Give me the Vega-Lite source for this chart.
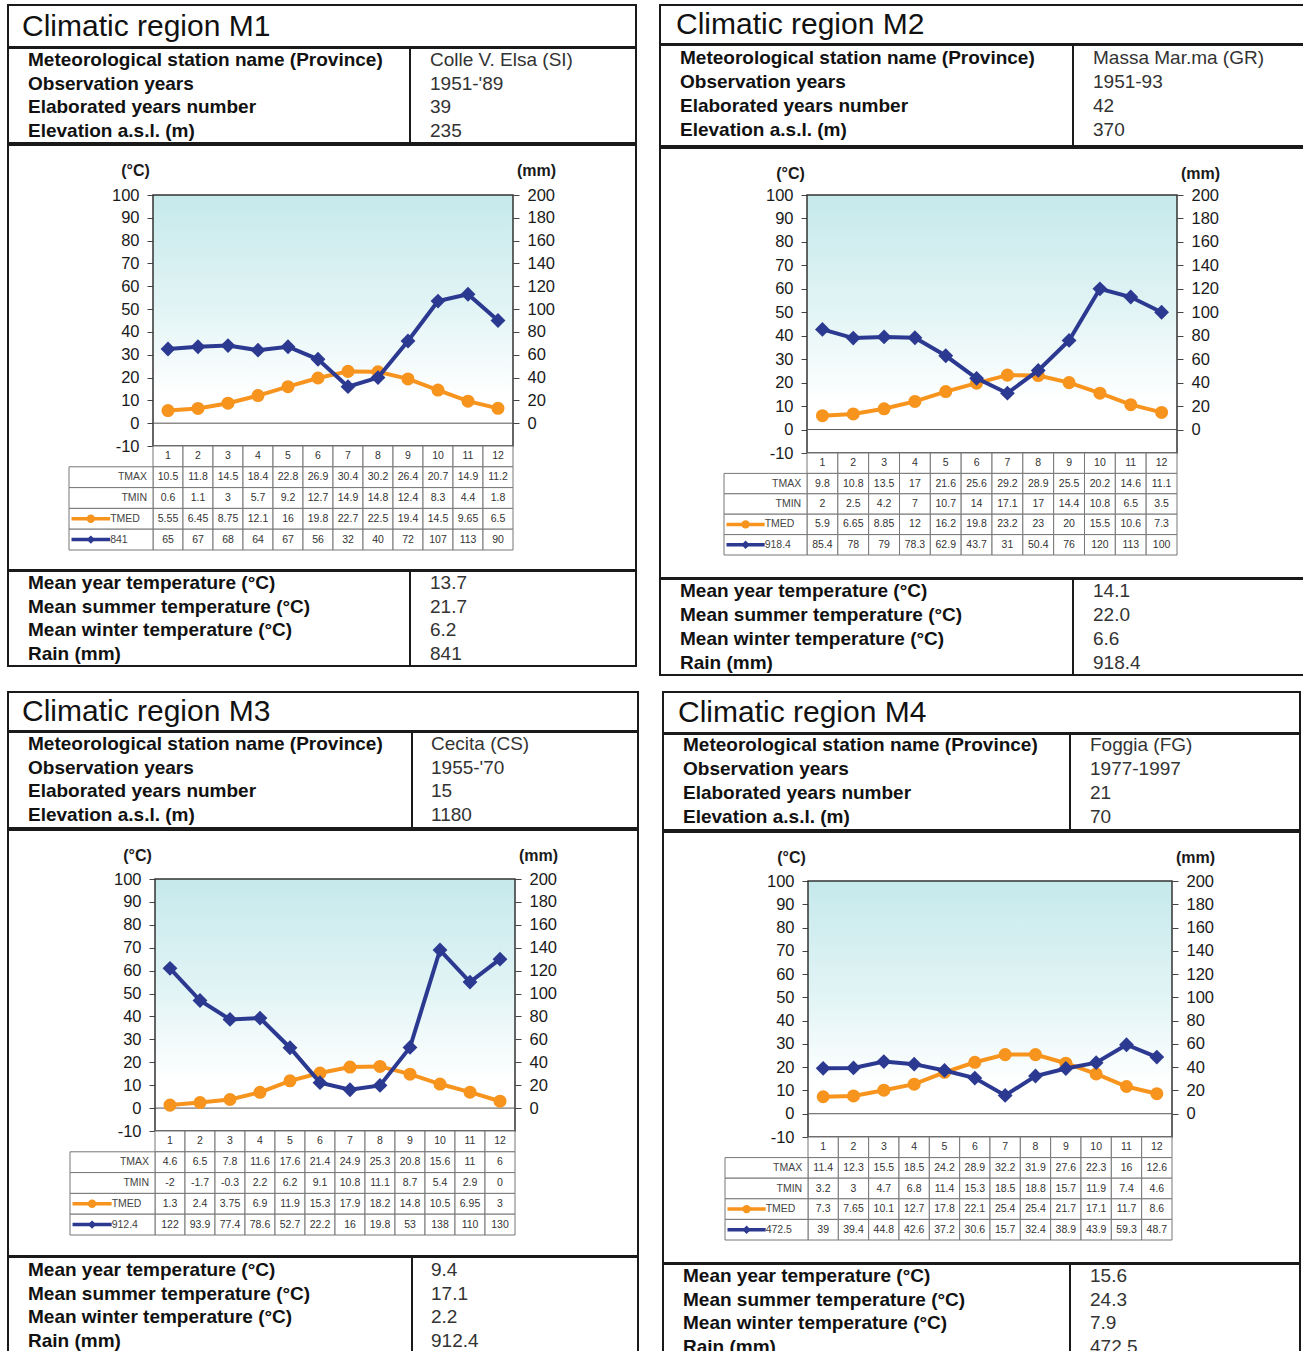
{
  "$schema": "https://vega.github.io/schema/vega-lite/v6.json",
  "background": "white",
  "padding": {"left": 7, "top": 4, "right": 0, "bottom": 0},
  "config": {
    "font": "Liberation Sans",
    "view": {"stroke": "#1a1a1a", "strokeWidth": 2},
    "axis": {
      "labelFont": "Liberation Sans", "labelFontSize": 16.5, "labelColor": "#1a1a1a", "labelExpr": "'' + datum.value",
      "tickColor": "#444", "tickSize": 6, "labelPadding": 8, "domain": false, "grid": false,
      "labelOverlap": false, "labelBound": false, "labelFlush": false,
      "titleFont": "Liberation Sans", "titleFontSize": 16, "titleFontWeight": "bold",
      "titleAngle": 0, "titleAlign": "center", "titleBaseline": "middle", "titleColor": "#1a1a1a"
    }
  },
  "datasets": {
    "titles": [
      {"region": "M1", "text": "Climatic region M1"},
      {"region": "M2", "text": "Climatic region M2"},
      {"region": "M3", "text": "Climatic region M3"},
      {"region": "M4", "text": "Climatic region M4"}
    ],
    "info": [
      {"region": "M1", "block": "header", "row": 1, "label": "Meteorological station name (Province)", "value": "Colle V. Elsa (SI)"},
      {"region": "M1", "block": "header", "row": 2, "label": "Observation years", "value": "1951-'89"},
      {"region": "M1", "block": "header", "row": 3, "label": "Elaborated years number", "value": "39"},
      {"region": "M1", "block": "header", "row": 4, "label": "Elevation a.s.l. (m)", "value": "235"},
      {"region": "M1", "block": "footer", "row": 1, "label": "Mean year temperature (°C)", "value": "13.7"},
      {"region": "M1", "block": "footer", "row": 2, "label": "Mean summer temperature (°C)", "value": "21.7"},
      {"region": "M1", "block": "footer", "row": 3, "label": "Mean winter temperature (°C)", "value": "6.2"},
      {"region": "M1", "block": "footer", "row": 4, "label": "Rain (mm)", "value": "841"},
      {"region": "M2", "block": "header", "row": 1, "label": "Meteorological station name (Province)", "value": "Massa Mar.ma (GR)"},
      {"region": "M2", "block": "header", "row": 2, "label": "Observation years", "value": "1951-93"},
      {"region": "M2", "block": "header", "row": 3, "label": "Elaborated years number", "value": "42"},
      {"region": "M2", "block": "header", "row": 4, "label": "Elevation a.s.l. (m)", "value": "370"},
      {"region": "M2", "block": "footer", "row": 1, "label": "Mean year temperature (°C)", "value": "14.1"},
      {"region": "M2", "block": "footer", "row": 2, "label": "Mean summer temperature (°C)", "value": "22.0"},
      {"region": "M2", "block": "footer", "row": 3, "label": "Mean winter temperature (°C)", "value": "6.6"},
      {"region": "M2", "block": "footer", "row": 4, "label": "Rain (mm)", "value": "918.4"},
      {"region": "M3", "block": "header", "row": 1, "label": "Meteorological station name (Province)", "value": "Cecita (CS)"},
      {"region": "M3", "block": "header", "row": 2, "label": "Observation years", "value": "1955-'70"},
      {"region": "M3", "block": "header", "row": 3, "label": "Elaborated years number", "value": "15"},
      {"region": "M3", "block": "header", "row": 4, "label": "Elevation a.s.l. (m)", "value": "1180"},
      {"region": "M3", "block": "footer", "row": 1, "label": "Mean year temperature (°C)", "value": "9.4"},
      {"region": "M3", "block": "footer", "row": 2, "label": "Mean summer temperature (°C)", "value": "17.1"},
      {"region": "M3", "block": "footer", "row": 3, "label": "Mean winter temperature (°C)", "value": "2.2"},
      {"region": "M3", "block": "footer", "row": 4, "label": "Rain (mm)", "value": "912.4"},
      {"region": "M4", "block": "header", "row": 1, "label": "Meteorological station name (Province)", "value": "Foggia (FG)"},
      {"region": "M4", "block": "header", "row": 2, "label": "Observation years", "value": "1977-1997"},
      {"region": "M4", "block": "header", "row": 3, "label": "Elaborated years number", "value": "21"},
      {"region": "M4", "block": "header", "row": 4, "label": "Elevation a.s.l. (m)", "value": "70"},
      {"region": "M4", "block": "footer", "row": 1, "label": "Mean year temperature (°C)", "value": "15.6"},
      {"region": "M4", "block": "footer", "row": 2, "label": "Mean summer temperature (°C)", "value": "24.3"},
      {"region": "M4", "block": "footer", "row": 3, "label": "Mean winter temperature (°C)", "value": "7.9"},
      {"region": "M4", "block": "footer", "row": 4, "label": "Rain (mm)", "value": "472.5"}
    ],
    "rowlabels": [
      {"region": "M1", "key": "tmax", "label": "TMAX"}, {"region": "M1", "key": "tmin", "label": "TMIN"},
      {"region": "M1", "key": "tmed", "label": "TMED"}, {"region": "M1", "key": "rain", "label": "841"},
      {"region": "M2", "key": "tmax", "label": "TMAX"}, {"region": "M2", "key": "tmin", "label": "TMIN"},
      {"region": "M2", "key": "tmed", "label": "TMED"}, {"region": "M2", "key": "rain", "label": "918.4"},
      {"region": "M3", "key": "tmax", "label": "TMAX"}, {"region": "M3", "key": "tmin", "label": "TMIN"},
      {"region": "M3", "key": "tmed", "label": "TMED"}, {"region": "M3", "key": "rain", "label": "912.4"},
      {"region": "M4", "key": "tmax", "label": "TMAX"}, {"region": "M4", "key": "tmin", "label": "TMIN"},
      {"region": "M4", "key": "tmed", "label": "TMED"}, {"region": "M4", "key": "rain", "label": "472.5"}
    ],
    "monthly": [
      {"region": "M1", "month": 1, "tmax": 10.5, "tmin": 0.6, "tmed": 5.55, "rain": 65},
      {"region": "M1", "month": 2, "tmax": 11.8, "tmin": 1.1, "tmed": 6.45, "rain": 67},
      {"region": "M1", "month": 3, "tmax": 14.5, "tmin": 3, "tmed": 8.75, "rain": 68},
      {"region": "M1", "month": 4, "tmax": 18.4, "tmin": 5.7, "tmed": 12.1, "rain": 64},
      {"region": "M1", "month": 5, "tmax": 22.8, "tmin": 9.2, "tmed": 16, "rain": 67},
      {"region": "M1", "month": 6, "tmax": 26.9, "tmin": 12.7, "tmed": 19.8, "rain": 56},
      {"region": "M1", "month": 7, "tmax": 30.4, "tmin": 14.9, "tmed": 22.7, "rain": 32},
      {"region": "M1", "month": 8, "tmax": 30.2, "tmin": 14.8, "tmed": 22.5, "rain": 40},
      {"region": "M1", "month": 9, "tmax": 26.4, "tmin": 12.4, "tmed": 19.4, "rain": 72},
      {"region": "M1", "month": 10, "tmax": 20.7, "tmin": 8.3, "tmed": 14.5, "rain": 107},
      {"region": "M1", "month": 11, "tmax": 14.9, "tmin": 4.4, "tmed": 9.65, "rain": 113},
      {"region": "M1", "month": 12, "tmax": 11.2, "tmin": 1.8, "tmed": 6.5, "rain": 90},
      {"region": "M2", "month": 1, "tmax": 9.8, "tmin": 2, "tmed": 5.9, "rain": 85.4},
      {"region": "M2", "month": 2, "tmax": 10.8, "tmin": 2.5, "tmed": 6.65, "rain": 78},
      {"region": "M2", "month": 3, "tmax": 13.5, "tmin": 4.2, "tmed": 8.85, "rain": 79},
      {"region": "M2", "month": 4, "tmax": 17, "tmin": 7, "tmed": 12, "rain": 78.3},
      {"region": "M2", "month": 5, "tmax": 21.6, "tmin": 10.7, "tmed": 16.2, "rain": 62.9},
      {"region": "M2", "month": 6, "tmax": 25.6, "tmin": 14, "tmed": 19.8, "rain": 43.7},
      {"region": "M2", "month": 7, "tmax": 29.2, "tmin": 17.1, "tmed": 23.2, "rain": 31},
      {"region": "M2", "month": 8, "tmax": 28.9, "tmin": 17, "tmed": 23, "rain": 50.4},
      {"region": "M2", "month": 9, "tmax": 25.5, "tmin": 14.4, "tmed": 20, "rain": 76},
      {"region": "M2", "month": 10, "tmax": 20.2, "tmin": 10.8, "tmed": 15.5, "rain": 120},
      {"region": "M2", "month": 11, "tmax": 14.6, "tmin": 6.5, "tmed": 10.6, "rain": 113},
      {"region": "M2", "month": 12, "tmax": 11.1, "tmin": 3.5, "tmed": 7.3, "rain": 100},
      {"region": "M3", "month": 1, "tmax": 4.6, "tmin": -2, "tmed": 1.3, "rain": 122},
      {"region": "M3", "month": 2, "tmax": 6.5, "tmin": -1.7, "tmed": 2.4, "rain": 93.9},
      {"region": "M3", "month": 3, "tmax": 7.8, "tmin": -0.3, "tmed": 3.75, "rain": 77.4},
      {"region": "M3", "month": 4, "tmax": 11.6, "tmin": 2.2, "tmed": 6.9, "rain": 78.6},
      {"region": "M3", "month": 5, "tmax": 17.6, "tmin": 6.2, "tmed": 11.9, "rain": 52.7},
      {"region": "M3", "month": 6, "tmax": 21.4, "tmin": 9.1, "tmed": 15.3, "rain": 22.2},
      {"region": "M3", "month": 7, "tmax": 24.9, "tmin": 10.8, "tmed": 17.9, "rain": 16},
      {"region": "M3", "month": 8, "tmax": 25.3, "tmin": 11.1, "tmed": 18.2, "rain": 19.8},
      {"region": "M3", "month": 9, "tmax": 20.8, "tmin": 8.7, "tmed": 14.8, "rain": 53},
      {"region": "M3", "month": 10, "tmax": 15.6, "tmin": 5.4, "tmed": 10.5, "rain": 138},
      {"region": "M3", "month": 11, "tmax": 11, "tmin": 2.9, "tmed": 6.95, "rain": 110},
      {"region": "M3", "month": 12, "tmax": 6, "tmin": 0, "tmed": 3, "rain": 130},
      {"region": "M4", "month": 1, "tmax": 11.4, "tmin": 3.2, "tmed": 7.3, "rain": 39},
      {"region": "M4", "month": 2, "tmax": 12.3, "tmin": 3, "tmed": 7.65, "rain": 39.4},
      {"region": "M4", "month": 3, "tmax": 15.5, "tmin": 4.7, "tmed": 10.1, "rain": 44.8},
      {"region": "M4", "month": 4, "tmax": 18.5, "tmin": 6.8, "tmed": 12.7, "rain": 42.6},
      {"region": "M4", "month": 5, "tmax": 24.2, "tmin": 11.4, "tmed": 17.8, "rain": 37.2},
      {"region": "M4", "month": 6, "tmax": 28.9, "tmin": 15.3, "tmed": 22.1, "rain": 30.6},
      {"region": "M4", "month": 7, "tmax": 32.2, "tmin": 18.5, "tmed": 25.4, "rain": 15.7},
      {"region": "M4", "month": 8, "tmax": 31.9, "tmin": 18.8, "tmed": 25.4, "rain": 32.4},
      {"region": "M4", "month": 9, "tmax": 27.6, "tmin": 15.7, "tmed": 21.7, "rain": 38.9},
      {"region": "M4", "month": 10, "tmax": 22.3, "tmin": 11.9, "tmed": 17.1, "rain": 43.9},
      {"region": "M4", "month": 11, "tmax": 16, "tmin": 7.4, "tmed": 11.7, "rain": 59.3},
      {"region": "M4", "month": 12, "tmax": 12.6, "tmin": 4.6, "tmed": 8.6, "rain": 48.7}
    ]
  },
  "spacing": 14,
  "vconcat": [
    {
      "spacing": 22,
      "hconcat": [
        {
          "spacing": -2,
          "vconcat": [
            {
              "width": 628, "height": 42,
              "data": {"name": "titles"},
              "transform": [{"filter": "datum.region === 'M1'"}],
              "mark": {"type": "text", "align": "left", "baseline": "middle", "fontSize": 30, "color": "#111", "dy": 1},
              "encoding": {
                "x": {"datum": "label", "type": "nominal", "scale": {"type": "point", "domain": ["label", "value"], "range": [14, 416], "padding": 0}, "axis": null},
                "text": {"field": "text", "type": "nominal"}
              }
            },
            {
              "width": 628, "height": 95,
              "data": {"name": "info"},
              "transform": [{"filter": "datum.region === 'M1' && datum.block === 'header'"}],
              "layer": [
                {
                  "mark": {"type": "text", "align": "left", "baseline": "middle", "fontSize": 19, "fontWeight": "bold", "color": "#111"},
                  "encoding": {
                    "x": {"datum": "label", "type": "nominal", "scale": {"type": "point", "domain": ["label", "value"], "range": [20, 422], "padding": 0}, "axis": null},
                    "y": {"field": "row", "type": "ordinal", "scale": {"type": "point", "domain": [1, 2, 3, 4], "range": [12, 83], "padding": 0}, "axis": null},
                    "text": {"field": "label", "type": "nominal"}
                  }
                },
                {
                  "mark": {"type": "text", "align": "left", "baseline": "middle", "fontSize": 19, "color": "#333"},
                  "encoding": {
                    "x": {"datum": "value", "type": "nominal", "scale": {"type": "point", "domain": ["label", "value"], "range": [20, 422], "padding": 0}, "axis": null},
                    "y": {"field": "row", "type": "ordinal", "scale": {"type": "point", "domain": [1, 2, 3, 4], "range": [12, 83], "padding": 0}, "axis": null},
                    "text": {"field": "value", "type": "nominal"}
                  }
                },
                {
                  "mark": {"type": "rule", "color": "#1a1a1a", "strokeWidth": 2, "xOffset": -20},
                  "encoding": {
                    "x": {"datum": "value", "type": "nominal", "scale": {"type": "point", "domain": ["label", "value"], "range": [20, 422], "padding": 0}, "axis": null}
                  }
                }
              ]
            },
            {
              "width": 628, "height": 425,
              "resolve": {"scale": {"x": "independent", "y": "independent", "color": "independent", "shape": "independent"}},
              "layer": [
                {
                  "data": {"name": "titles"},
                  "transform": [{"filter": "datum.region === 'M1'"}],
                  "mark": {"type": "rect", "stroke": "#333", "strokeWidth": 1.5, "fill": {"gradient": "linear", "x1": 0, "y1": 0, "x2": 0, "y2": 1, "stops": [{"offset": 0, "color": "#c6e9ec"}, {"offset": 0.45, "color": "#e2f4f5"}, {"offset": 0.8, "color": "#ffffff"}, {"offset": 1, "color": "#ffffff"}]}},
                  "encoding": {
                    "x": {"datum": 0.5, "type": "quantitative", "scale": {"domain": [0.5, 12.5], "range": [145, 505], "nice": false, "zero": false}, "axis": null},
                    "x2": {"datum": 12.5},
                    "y": {"datum": -10, "type": "quantitative", "scale": {"domain": [-10, 100], "range": [301, 50], "nice": false, "zero": false},
                      "axis": {"orient": "left", "offset": -145, "values": [-10, 0, 10, 20, 30, 40, 50, 60, 70, 80, 90, 100], "title": "(°C)", "titleX": -18, "titleY": 25}},
                    "y2": {"datum": 100}
                  }
                },
                {
                  "data": {"name": "titles"},
                  "transform": [{"filter": "datum.region === 'M1'"}],
                  "mark": {"type": "rule", "color": "#555", "strokeWidth": 1},
                  "encoding": {
                    "x": {"datum": 0.5, "type": "quantitative", "scale": {"domain": [0.5, 12.5], "range": [145, 505], "nice": false, "zero": false}, "axis": null},
                    "x2": {"datum": 12.5},
                    "y": {"datum": 0, "type": "quantitative", "scale": {"domain": [-10, 100], "range": [301, 50], "nice": false, "zero": false}, "axis": null}
                  }
                },
                {
                  "data": {"name": "monthly"},
                  "transform": [{"filter": "datum.region === 'M1'"}],
                  "mark": {"type": "line", "color": "#F7941E", "strokeWidth": 4, "point": {"filled": true, "shape": "circle", "size": 170, "color": "#F7941E"}},
                  "encoding": {
                    "x": {"field": "month", "type": "quantitative", "scale": {"domain": [0.5, 12.5], "range": [145, 505], "nice": false, "zero": false}, "axis": null},
                    "y": {"field": "tmed", "type": "quantitative", "scale": {"domain": [-10, 100], "range": [301, 50], "nice": false, "zero": false}, "axis": null}
                  }
                },
                {
                  "data": {"name": "monthly"},
                  "transform": [{"filter": "datum.region === 'M1'"}],
                  "mark": {"type": "line", "color": "#2B3990", "strokeWidth": 4, "point": {"filled": true, "shape": "diamond", "size": 220, "color": "#2B3990"}},
                  "encoding": {
                    "x": {"field": "month", "type": "quantitative", "scale": {"domain": [0.5, 12.5], "range": [145, 505], "nice": false, "zero": false}, "axis": null},
                    "y": {"field": "rain", "type": "quantitative", "scale": {"domain": [-20, 200], "range": [301, 50], "nice": false, "zero": false},
                      "axis": {"orient": "right", "offset": -123, "values": [0, 20, 40, 60, 80, 100, 120, 140, 160, 180, 200], "title": "(mm)", "titleX": 23, "titleY": 25}}
                  }
                },
                {
                  "data": {"name": "monthly"},
                  "transform": [{"filter": "datum.region === 'M1'"}, {"fold": ["month", "tmax", "tmin", "tmed", "rain"], "as": ["key", "value"]}],
                  "mark": {"type": "rect", "fill": "white", "stroke": "#777", "strokeWidth": 1},
                  "encoding": {
                    "x": {"field": "month", "type": "ordinal", "scale": {"type": "band", "domain": [1, 2, 3, 4, 5, 6, 7, 8, 9, 10, 11, 12], "range": [145, 505], "paddingInner": 0, "paddingOuter": 0}, "axis": null},
                    "y": {"field": "key", "type": "nominal", "scale": {"type": "band", "domain": ["month", "tmax", "tmin", "tmed", "rain"], "range": [301, 405], "paddingInner": 0, "paddingOuter": 0}, "axis": null}
                  }
                },
                {
                  "data": {"name": "monthly"},
                  "transform": [{"filter": "datum.region === 'M1'"}, {"fold": ["month", "tmax", "tmin", "tmed", "rain"], "as": ["key", "value"]}],
                  "mark": {"type": "text", "fontSize": 10.5, "color": "#333", "baseline": "middle"},
                  "encoding": {
                    "x": {"field": "month", "type": "ordinal", "scale": {"type": "band", "domain": [1, 2, 3, 4, 5, 6, 7, 8, 9, 10, 11, 12], "range": [145, 505], "paddingInner": 0, "paddingOuter": 0}, "axis": null},
                    "y": {"field": "key", "type": "nominal", "scale": {"type": "band", "domain": ["month", "tmax", "tmin", "tmed", "rain"], "range": [301, 405], "paddingInner": 0, "paddingOuter": 0}, "axis": null},
                    "text": {"field": "value", "type": "nominal"}
                  }
                },
                {
                  "data": {"name": "rowlabels"},
                  "transform": [{"filter": "datum.region === 'M1'"}],
                  "mark": {"type": "rect", "fill": "white", "stroke": "#777", "strokeWidth": 1},
                  "encoding": {
                    "x": {"datum": 0, "type": "quantitative", "scale": {"domain": [0, 1], "range": [61, 145], "nice": false, "zero": false}, "axis": null},
                    "x2": {"datum": 1},
                    "y": {"field": "key", "type": "nominal", "scale": {"type": "band", "domain": ["month", "tmax", "tmin", "tmed", "rain"], "range": [301, 405], "paddingInner": 0, "paddingOuter": 0}, "axis": null}
                  }
                },
                {
                  "data": {"name": "rowlabels"},
                  "transform": [{"filter": "datum.region === 'M1' && (datum.key === 'tmax' || datum.key === 'tmin')"}],
                  "mark": {"type": "text", "fontSize": 10.5, "color": "#444", "align": "right", "baseline": "middle"},
                  "encoding": {
                    "x": {"datum": 0.93, "type": "quantitative", "scale": {"domain": [0, 1], "range": [61, 145], "nice": false, "zero": false}, "axis": null},
                    "y": {"field": "key", "type": "nominal", "scale": {"type": "band", "domain": ["month", "tmax", "tmin", "tmed", "rain"], "range": [301, 405], "paddingInner": 0, "paddingOuter": 0}, "axis": null},
                    "text": {"field": "label", "type": "nominal"}
                  }
                },
                {
                  "data": {"name": "rowlabels"},
                  "transform": [{"filter": "datum.region === 'M1' && (datum.key === 'tmed' || datum.key === 'rain')"}],
                  "mark": {"type": "text", "fontSize": 10.5, "color": "#444", "align": "left", "baseline": "middle"},
                  "encoding": {
                    "x": {"datum": 0.49, "type": "quantitative", "scale": {"domain": [0, 1], "range": [61, 145], "nice": false, "zero": false}, "axis": null},
                    "y": {"field": "key", "type": "nominal", "scale": {"type": "band", "domain": ["month", "tmax", "tmin", "tmed", "rain"], "range": [301, 405], "paddingInner": 0, "paddingOuter": 0}, "axis": null},
                    "text": {"field": "label", "type": "nominal"}
                  }
                },
                {
                  "data": {"name": "rowlabels"},
                  "transform": [{"filter": "datum.region === 'M1' && (datum.key === 'tmed' || datum.key === 'rain')"}],
                  "mark": {"type": "rule", "strokeWidth": 3.5},
                  "encoding": {
                    "x": {"datum": 0.03, "type": "quantitative", "scale": {"domain": [0, 1], "range": [61, 145], "nice": false, "zero": false}, "axis": null},
                    "x2": {"datum": 0.49},
                    "y": {"field": "key", "type": "nominal", "scale": {"type": "band", "domain": ["month", "tmax", "tmin", "tmed", "rain"], "range": [301, 405], "paddingInner": 0, "paddingOuter": 0}, "axis": null},
                    "color": {"field": "key", "type": "nominal", "scale": {"domain": ["tmed", "rain"], "range": ["#F7941E", "#2B3990"]}, "legend": null}
                  }
                },
                {
                  "data": {"name": "rowlabels"},
                  "transform": [{"filter": "datum.region === 'M1' && (datum.key === 'tmed' || datum.key === 'rain')"}],
                  "mark": {"type": "point", "filled": true, "size": 70, "opacity": 1},
                  "encoding": {
                    "x": {"datum": 0.26, "type": "quantitative", "scale": {"domain": [0, 1], "range": [61, 145], "nice": false, "zero": false}, "axis": null},
                    "y": {"field": "key", "type": "nominal", "scale": {"type": "band", "domain": ["month", "tmax", "tmin", "tmed", "rain"], "range": [301, 405], "paddingInner": 0, "paddingOuter": 0}, "axis": null},
                    "color": {"field": "key", "type": "nominal", "scale": {"domain": ["tmed", "rain"], "range": ["#F7941E", "#2B3990"]}, "legend": null},
                    "shape": {"field": "key", "type": "nominal", "scale": {"domain": ["tmed", "rain"], "range": ["circle", "diamond"]}, "legend": null}
                  }
                }
              ]
            },
            {
              "width": 628, "height": 95,
              "data": {"name": "info"},
              "transform": [{"filter": "datum.region === 'M1' && datum.block === 'footer'"}],
              "layer": [
                {
                  "mark": {"type": "text", "align": "left", "baseline": "middle", "fontSize": 19, "fontWeight": "bold", "color": "#111"},
                  "encoding": {
                    "x": {"datum": "label", "type": "nominal", "scale": {"type": "point", "domain": ["label", "value"], "range": [20, 422], "padding": 0}, "axis": null},
                    "y": {"field": "row", "type": "ordinal", "scale": {"type": "point", "domain": [1, 2, 3, 4], "range": [12, 83], "padding": 0}, "axis": null},
                    "text": {"field": "label", "type": "nominal"}
                  }
                },
                {
                  "mark": {"type": "text", "align": "left", "baseline": "middle", "fontSize": 19, "color": "#333"},
                  "encoding": {
                    "x": {"datum": "value", "type": "nominal", "scale": {"type": "point", "domain": ["label", "value"], "range": [20, 422], "padding": 0}, "axis": null},
                    "y": {"field": "row", "type": "ordinal", "scale": {"type": "point", "domain": [1, 2, 3, 4], "range": [12, 83], "padding": 0}, "axis": null},
                    "text": {"field": "value", "type": "nominal"}
                  }
                },
                {
                  "mark": {"type": "rule", "color": "#1a1a1a", "strokeWidth": 2, "xOffset": -20},
                  "encoding": {
                    "x": {"datum": "value", "type": "nominal", "scale": {"type": "point", "domain": ["label", "value"], "range": [20, 422], "padding": 0}, "axis": null}
                  }
                }
              ]
            }
          ]
        },
        {
          "spacing": -2,
          "vconcat": [
            {
              "width": 648, "height": 39,
              "data": {"name": "titles"},
              "transform": [{"filter": "datum.region === 'M2'"}],
              "mark": {"type": "text", "align": "left", "baseline": "middle", "fontSize": 30, "color": "#111"},
              "encoding": {
                "x": {"datum": "label", "type": "nominal", "scale": {"type": "point", "domain": ["label", "value"], "range": [16, 418], "padding": 0}, "axis": null},
                "text": {"field": "text", "type": "nominal"}
              }
            },
            {
              "width": 648, "height": 101,
              "data": {"name": "info"},
              "transform": [{"filter": "datum.region === 'M2' && datum.block === 'header'"}],
              "layer": [
                {
                  "mark": {"type": "text", "align": "left", "baseline": "middle", "fontSize": 19, "fontWeight": "bold", "color": "#111"},
                  "encoding": {
                    "x": {"datum": "label", "type": "nominal", "scale": {"type": "point", "domain": ["label", "value"], "range": [20, 433], "padding": 0}, "axis": null},
                    "y": {"field": "row", "type": "ordinal", "scale": {"type": "point", "domain": [1, 2, 3, 4], "range": [13, 85], "padding": 0}, "axis": null},
                    "text": {"field": "label", "type": "nominal"}
                  }
                },
                {
                  "mark": {"type": "text", "align": "left", "baseline": "middle", "fontSize": 19, "color": "#333"},
                  "encoding": {
                    "x": {"datum": "value", "type": "nominal", "scale": {"type": "point", "domain": ["label", "value"], "range": [20, 433], "padding": 0}, "axis": null},
                    "y": {"field": "row", "type": "ordinal", "scale": {"type": "point", "domain": [1, 2, 3, 4], "range": [13, 85], "padding": 0}, "axis": null},
                    "text": {"field": "value", "type": "nominal"}
                  }
                },
                {
                  "mark": {"type": "rule", "color": "#1a1a1a", "strokeWidth": 2, "xOffset": -20},
                  "encoding": {
                    "x": {"datum": "value", "type": "nominal", "scale": {"type": "point", "domain": ["label", "value"], "range": [20, 433], "padding": 0}, "axis": null}
                  }
                }
              ]
            },
            {
              "width": 648, "height": 430,
              "resolve": {"scale": {"x": "independent", "y": "independent", "color": "independent", "shape": "independent"}},
              "layer": [
                {
                  "data": {"name": "titles"},
                  "transform": [{"filter": "datum.region === 'M2'"}],
                  "mark": {"type": "rect", "stroke": "#333", "strokeWidth": 1.5, "fill": {"gradient": "linear", "x1": 0, "y1": 0, "x2": 0, "y2": 1, "stops": [{"offset": 0, "color": "#c6e9ec"}, {"offset": 0.45, "color": "#e2f4f5"}, {"offset": 0.8, "color": "#ffffff"}, {"offset": 1, "color": "#ffffff"}]}},
                  "encoding": {
                    "x": {"datum": 0.5, "type": "quantitative", "scale": {"domain": [0.5, 12.5], "range": [147, 517], "nice": false, "zero": false}, "axis": null},
                    "x2": {"datum": 12.5},
                    "y": {"datum": -10, "type": "quantitative", "scale": {"domain": [-10, 100], "range": [305, 47], "nice": false, "zero": false},
                      "axis": {"orient": "left", "offset": -147, "values": [-10, 0, 10, 20, 30, 40, 50, 60, 70, 80, 90, 100], "title": "(°C)", "titleX": -17, "titleY": 25}},
                    "y2": {"datum": 100}
                  }
                },
                {
                  "data": {"name": "titles"},
                  "transform": [{"filter": "datum.region === 'M2'"}],
                  "mark": {"type": "rule", "color": "#555", "strokeWidth": 1},
                  "encoding": {
                    "x": {"datum": 0.5, "type": "quantitative", "scale": {"domain": [0.5, 12.5], "range": [147, 517], "nice": false, "zero": false}, "axis": null},
                    "x2": {"datum": 12.5},
                    "y": {"datum": 0, "type": "quantitative", "scale": {"domain": [-10, 100], "range": [305, 47], "nice": false, "zero": false}, "axis": null}
                  }
                },
                {
                  "data": {"name": "monthly"},
                  "transform": [{"filter": "datum.region === 'M2'"}],
                  "mark": {"type": "line", "color": "#F7941E", "strokeWidth": 4, "point": {"filled": true, "shape": "circle", "size": 170, "color": "#F7941E"}},
                  "encoding": {
                    "x": {"field": "month", "type": "quantitative", "scale": {"domain": [0.5, 12.5], "range": [147, 517], "nice": false, "zero": false}, "axis": null},
                    "y": {"field": "tmed", "type": "quantitative", "scale": {"domain": [-10, 100], "range": [305, 47], "nice": false, "zero": false}, "axis": null}
                  }
                },
                {
                  "data": {"name": "monthly"},
                  "transform": [{"filter": "datum.region === 'M2'"}],
                  "mark": {"type": "line", "color": "#2B3990", "strokeWidth": 4, "point": {"filled": true, "shape": "diamond", "size": 220, "color": "#2B3990"}},
                  "encoding": {
                    "x": {"field": "month", "type": "quantitative", "scale": {"domain": [0.5, 12.5], "range": [147, 517], "nice": false, "zero": false}, "axis": null},
                    "y": {"field": "rain", "type": "quantitative", "scale": {"domain": [-20, 200], "range": [305, 47], "nice": false, "zero": false},
                      "axis": {"orient": "right", "offset": -131, "values": [0, 20, 40, 60, 80, 100, 120, 140, 160, 180, 200], "title": "(mm)", "titleX": 23, "titleY": 25}}
                  }
                },
                {
                  "data": {"name": "monthly"},
                  "transform": [{"filter": "datum.region === 'M2'"}, {"fold": ["month", "tmax", "tmin", "tmed", "rain"], "as": ["key", "value"]}],
                  "mark": {"type": "rect", "fill": "white", "stroke": "#777", "strokeWidth": 1},
                  "encoding": {
                    "x": {"field": "month", "type": "ordinal", "scale": {"type": "band", "domain": [1, 2, 3, 4, 5, 6, 7, 8, 9, 10, 11, 12], "range": [147, 517], "paddingInner": 0, "paddingOuter": 0}, "axis": null},
                    "y": {"field": "key", "type": "nominal", "scale": {"type": "band", "domain": ["month", "tmax", "tmin", "tmed", "rain"], "range": [305, 407], "paddingInner": 0, "paddingOuter": 0}, "axis": null}
                  }
                },
                {
                  "data": {"name": "monthly"},
                  "transform": [{"filter": "datum.region === 'M2'"}, {"fold": ["month", "tmax", "tmin", "tmed", "rain"], "as": ["key", "value"]}],
                  "mark": {"type": "text", "fontSize": 10.5, "color": "#333", "baseline": "middle"},
                  "encoding": {
                    "x": {"field": "month", "type": "ordinal", "scale": {"type": "band", "domain": [1, 2, 3, 4, 5, 6, 7, 8, 9, 10, 11, 12], "range": [147, 517], "paddingInner": 0, "paddingOuter": 0}, "axis": null},
                    "y": {"field": "key", "type": "nominal", "scale": {"type": "band", "domain": ["month", "tmax", "tmin", "tmed", "rain"], "range": [305, 407], "paddingInner": 0, "paddingOuter": 0}, "axis": null},
                    "text": {"field": "value", "type": "nominal"}
                  }
                },
                {
                  "data": {"name": "rowlabels"},
                  "transform": [{"filter": "datum.region === 'M2'"}],
                  "mark": {"type": "rect", "fill": "white", "stroke": "#777", "strokeWidth": 1},
                  "encoding": {
                    "x": {"datum": 0, "type": "quantitative", "scale": {"domain": [0, 1], "range": [64, 147], "nice": false, "zero": false}, "axis": null},
                    "x2": {"datum": 1},
                    "y": {"field": "key", "type": "nominal", "scale": {"type": "band", "domain": ["month", "tmax", "tmin", "tmed", "rain"], "range": [305, 407], "paddingInner": 0, "paddingOuter": 0}, "axis": null}
                  }
                },
                {
                  "data": {"name": "rowlabels"},
                  "transform": [{"filter": "datum.region === 'M2' && (datum.key === 'tmax' || datum.key === 'tmin')"}],
                  "mark": {"type": "text", "fontSize": 10.5, "color": "#444", "align": "right", "baseline": "middle"},
                  "encoding": {
                    "x": {"datum": 0.93, "type": "quantitative", "scale": {"domain": [0, 1], "range": [64, 147], "nice": false, "zero": false}, "axis": null},
                    "y": {"field": "key", "type": "nominal", "scale": {"type": "band", "domain": ["month", "tmax", "tmin", "tmed", "rain"], "range": [305, 407], "paddingInner": 0, "paddingOuter": 0}, "axis": null},
                    "text": {"field": "label", "type": "nominal"}
                  }
                },
                {
                  "data": {"name": "rowlabels"},
                  "transform": [{"filter": "datum.region === 'M2' && (datum.key === 'tmed' || datum.key === 'rain')"}],
                  "mark": {"type": "text", "fontSize": 10.5, "color": "#444", "align": "left", "baseline": "middle"},
                  "encoding": {
                    "x": {"datum": 0.49, "type": "quantitative", "scale": {"domain": [0, 1], "range": [64, 147], "nice": false, "zero": false}, "axis": null},
                    "y": {"field": "key", "type": "nominal", "scale": {"type": "band", "domain": ["month", "tmax", "tmin", "tmed", "rain"], "range": [305, 407], "paddingInner": 0, "paddingOuter": 0}, "axis": null},
                    "text": {"field": "label", "type": "nominal"}
                  }
                },
                {
                  "data": {"name": "rowlabels"},
                  "transform": [{"filter": "datum.region === 'M2' && (datum.key === 'tmed' || datum.key === 'rain')"}],
                  "mark": {"type": "rule", "strokeWidth": 3.5},
                  "encoding": {
                    "x": {"datum": 0.03, "type": "quantitative", "scale": {"domain": [0, 1], "range": [64, 147], "nice": false, "zero": false}, "axis": null},
                    "x2": {"datum": 0.49},
                    "y": {"field": "key", "type": "nominal", "scale": {"type": "band", "domain": ["month", "tmax", "tmin", "tmed", "rain"], "range": [305, 407], "paddingInner": 0, "paddingOuter": 0}, "axis": null},
                    "color": {"field": "key", "type": "nominal", "scale": {"domain": ["tmed", "rain"], "range": ["#F7941E", "#2B3990"]}, "legend": null}
                  }
                },
                {
                  "data": {"name": "rowlabels"},
                  "transform": [{"filter": "datum.region === 'M2' && (datum.key === 'tmed' || datum.key === 'rain')"}],
                  "mark": {"type": "point", "filled": true, "size": 70, "opacity": 1},
                  "encoding": {
                    "x": {"datum": 0.26, "type": "quantitative", "scale": {"domain": [0, 1], "range": [64, 147], "nice": false, "zero": false}, "axis": null},
                    "y": {"field": "key", "type": "nominal", "scale": {"type": "band", "domain": ["month", "tmax", "tmin", "tmed", "rain"], "range": [305, 407], "paddingInner": 0, "paddingOuter": 0}, "axis": null},
                    "color": {"field": "key", "type": "nominal", "scale": {"domain": ["tmed", "rain"], "range": ["#F7941E", "#2B3990"]}, "legend": null},
                    "shape": {"field": "key", "type": "nominal", "scale": {"domain": ["tmed", "rain"], "range": ["circle", "diamond"]}, "legend": null}
                  }
                }
              ]
            },
            {
              "width": 648, "height": 96,
              "data": {"name": "info"},
              "transform": [{"filter": "datum.region === 'M2' && datum.block === 'footer'"}],
              "layer": [
                {
                  "mark": {"type": "text", "align": "left", "baseline": "middle", "fontSize": 19, "fontWeight": "bold", "color": "#111"},
                  "encoding": {
                    "x": {"datum": "label", "type": "nominal", "scale": {"type": "point", "domain": ["label", "value"], "range": [20, 433], "padding": 0}, "axis": null},
                    "y": {"field": "row", "type": "ordinal", "scale": {"type": "point", "domain": [1, 2, 3, 4], "range": [12, 84], "padding": 0}, "axis": null},
                    "text": {"field": "label", "type": "nominal"}
                  }
                },
                {
                  "mark": {"type": "text", "align": "left", "baseline": "middle", "fontSize": 19, "color": "#333"},
                  "encoding": {
                    "x": {"datum": "value", "type": "nominal", "scale": {"type": "point", "domain": ["label", "value"], "range": [20, 433], "padding": 0}, "axis": null},
                    "y": {"field": "row", "type": "ordinal", "scale": {"type": "point", "domain": [1, 2, 3, 4], "range": [12, 84], "padding": 0}, "axis": null},
                    "text": {"field": "value", "type": "nominal"}
                  }
                },
                {
                  "mark": {"type": "rule", "color": "#1a1a1a", "strokeWidth": 2, "xOffset": -20},
                  "encoding": {
                    "x": {"datum": "value", "type": "nominal", "scale": {"type": "point", "domain": ["label", "value"], "range": [20, 433], "padding": 0}, "axis": null}
                  }
                }
              ]
            }
          ]
        }
      ]
    },
    {
      "spacing": 23,
      "hconcat": [
        {
          "spacing": -2,
          "vconcat": [
            {
              "width": 630, "height": 39,
              "data": {"name": "titles"},
              "transform": [{"filter": "datum.region === 'M3'"}],
              "mark": {"type": "text", "align": "left", "baseline": "middle", "fontSize": 30, "color": "#111"},
              "encoding": {
                "x": {"datum": "label", "type": "nominal", "scale": {"type": "point", "domain": ["label", "value"], "range": [14, 416], "padding": 0}, "axis": null},
                "text": {"field": "text", "type": "nominal"}
              }
            },
            {
              "width": 630, "height": 96,
              "data": {"name": "info"},
              "transform": [{"filter": "datum.region === 'M3' && datum.block === 'header'"}],
              "layer": [
                {
                  "mark": {"type": "text", "align": "left", "baseline": "middle", "fontSize": 19, "fontWeight": "bold", "color": "#111"},
                  "encoding": {
                    "x": {"datum": "label", "type": "nominal", "scale": {"type": "point", "domain": ["label", "value"], "range": [20, 423], "padding": 0}, "axis": null},
                    "y": {"field": "row", "type": "ordinal", "scale": {"type": "point", "domain": [1, 2, 3, 4], "range": [12, 83], "padding": 0}, "axis": null},
                    "text": {"field": "label", "type": "nominal"}
                  }
                },
                {
                  "mark": {"type": "text", "align": "left", "baseline": "middle", "fontSize": 19, "color": "#333"},
                  "encoding": {
                    "x": {"datum": "value", "type": "nominal", "scale": {"type": "point", "domain": ["label", "value"], "range": [20, 423], "padding": 0}, "axis": null},
                    "y": {"field": "row", "type": "ordinal", "scale": {"type": "point", "domain": [1, 2, 3, 4], "range": [12, 83], "padding": 0}, "axis": null},
                    "text": {"field": "value", "type": "nominal"}
                  }
                },
                {
                  "mark": {"type": "rule", "color": "#1a1a1a", "strokeWidth": 2, "xOffset": -19},
                  "encoding": {
                    "x": {"datum": "value", "type": "nominal", "scale": {"type": "point", "domain": ["label", "value"], "range": [20, 423], "padding": 0}, "axis": null}
                  }
                }
              ]
            },
            {
              "width": 630, "height": 426,
              "resolve": {"scale": {"x": "independent", "y": "independent", "color": "independent", "shape": "independent"}},
              "layer": [
                {
                  "data": {"name": "titles"},
                  "transform": [{"filter": "datum.region === 'M3'"}],
                  "mark": {"type": "rect", "stroke": "#333", "strokeWidth": 1.5, "fill": {"gradient": "linear", "x1": 0, "y1": 0, "x2": 0, "y2": 1, "stops": [{"offset": 0, "color": "#c6e9ec"}, {"offset": 0.45, "color": "#e2f4f5"}, {"offset": 0.8, "color": "#ffffff"}, {"offset": 1, "color": "#ffffff"}]}},
                  "encoding": {
                    "x": {"datum": 0.5, "type": "quantitative", "scale": {"domain": [0.5, 12.5], "range": [147, 507], "nice": false, "zero": false}, "axis": null},
                    "x2": {"datum": 12.5},
                    "y": {"datum": -10, "type": "quantitative", "scale": {"domain": [-10, 100], "range": [301, 49], "nice": false, "zero": false},
                      "axis": {"orient": "left", "offset": -147, "values": [-10, 0, 10, 20, 30, 40, 50, 60, 70, 80, 90, 100], "title": "(°C)", "titleX": -18, "titleY": 25}},
                    "y2": {"datum": 100}
                  }
                },
                {
                  "data": {"name": "titles"},
                  "transform": [{"filter": "datum.region === 'M3'"}],
                  "mark": {"type": "rule", "color": "#555", "strokeWidth": 1},
                  "encoding": {
                    "x": {"datum": 0.5, "type": "quantitative", "scale": {"domain": [0.5, 12.5], "range": [147, 507], "nice": false, "zero": false}, "axis": null},
                    "x2": {"datum": 12.5},
                    "y": {"datum": 0, "type": "quantitative", "scale": {"domain": [-10, 100], "range": [301, 49], "nice": false, "zero": false}, "axis": null}
                  }
                },
                {
                  "data": {"name": "monthly"},
                  "transform": [{"filter": "datum.region === 'M3'"}],
                  "mark": {"type": "line", "color": "#F7941E", "strokeWidth": 4, "point": {"filled": true, "shape": "circle", "size": 170, "color": "#F7941E"}},
                  "encoding": {
                    "x": {"field": "month", "type": "quantitative", "scale": {"domain": [0.5, 12.5], "range": [147, 507], "nice": false, "zero": false}, "axis": null},
                    "y": {"field": "tmed", "type": "quantitative", "scale": {"domain": [-10, 100], "range": [301, 49], "nice": false, "zero": false}, "axis": null}
                  }
                },
                {
                  "data": {"name": "monthly"},
                  "transform": [{"filter": "datum.region === 'M3'"}],
                  "mark": {"type": "line", "color": "#2B3990", "strokeWidth": 4, "point": {"filled": true, "shape": "diamond", "size": 220, "color": "#2B3990"}},
                  "encoding": {
                    "x": {"field": "month", "type": "quantitative", "scale": {"domain": [0.5, 12.5], "range": [147, 507], "nice": false, "zero": false}, "axis": null},
                    "y": {"field": "rain", "type": "quantitative", "scale": {"domain": [-20, 200], "range": [301, 49], "nice": false, "zero": false},
                      "axis": {"orient": "right", "offset": -123, "values": [0, 20, 40, 60, 80, 100, 120, 140, 160, 180, 200], "title": "(mm)", "titleX": 23, "titleY": 25}}
                  }
                },
                {
                  "data": {"name": "monthly"},
                  "transform": [{"filter": "datum.region === 'M3'"}, {"fold": ["month", "tmax", "tmin", "tmed", "rain"], "as": ["key", "value"]}],
                  "mark": {"type": "rect", "fill": "white", "stroke": "#777", "strokeWidth": 1},
                  "encoding": {
                    "x": {"field": "month", "type": "ordinal", "scale": {"type": "band", "domain": [1, 2, 3, 4, 5, 6, 7, 8, 9, 10, 11, 12], "range": [147, 507], "paddingInner": 0, "paddingOuter": 0}, "axis": null},
                    "y": {"field": "key", "type": "nominal", "scale": {"type": "band", "domain": ["month", "tmax", "tmin", "tmed", "rain"], "range": [301, 405], "paddingInner": 0, "paddingOuter": 0}, "axis": null}
                  }
                },
                {
                  "data": {"name": "monthly"},
                  "transform": [{"filter": "datum.region === 'M3'"}, {"fold": ["month", "tmax", "tmin", "tmed", "rain"], "as": ["key", "value"]}],
                  "mark": {"type": "text", "fontSize": 10.5, "color": "#333", "baseline": "middle"},
                  "encoding": {
                    "x": {"field": "month", "type": "ordinal", "scale": {"type": "band", "domain": [1, 2, 3, 4, 5, 6, 7, 8, 9, 10, 11, 12], "range": [147, 507], "paddingInner": 0, "paddingOuter": 0}, "axis": null},
                    "y": {"field": "key", "type": "nominal", "scale": {"type": "band", "domain": ["month", "tmax", "tmin", "tmed", "rain"], "range": [301, 405], "paddingInner": 0, "paddingOuter": 0}, "axis": null},
                    "text": {"field": "value", "type": "nominal"}
                  }
                },
                {
                  "data": {"name": "rowlabels"},
                  "transform": [{"filter": "datum.region === 'M3'"}],
                  "mark": {"type": "rect", "fill": "white", "stroke": "#777", "strokeWidth": 1},
                  "encoding": {
                    "x": {"datum": 0, "type": "quantitative", "scale": {"domain": [0, 1], "range": [62, 147], "nice": false, "zero": false}, "axis": null},
                    "x2": {"datum": 1},
                    "y": {"field": "key", "type": "nominal", "scale": {"type": "band", "domain": ["month", "tmax", "tmin", "tmed", "rain"], "range": [301, 405], "paddingInner": 0, "paddingOuter": 0}, "axis": null}
                  }
                },
                {
                  "data": {"name": "rowlabels"},
                  "transform": [{"filter": "datum.region === 'M3' && (datum.key === 'tmax' || datum.key === 'tmin')"}],
                  "mark": {"type": "text", "fontSize": 10.5, "color": "#444", "align": "right", "baseline": "middle"},
                  "encoding": {
                    "x": {"datum": 0.93, "type": "quantitative", "scale": {"domain": [0, 1], "range": [62, 147], "nice": false, "zero": false}, "axis": null},
                    "y": {"field": "key", "type": "nominal", "scale": {"type": "band", "domain": ["month", "tmax", "tmin", "tmed", "rain"], "range": [301, 405], "paddingInner": 0, "paddingOuter": 0}, "axis": null},
                    "text": {"field": "label", "type": "nominal"}
                  }
                },
                {
                  "data": {"name": "rowlabels"},
                  "transform": [{"filter": "datum.region === 'M3' && (datum.key === 'tmed' || datum.key === 'rain')"}],
                  "mark": {"type": "text", "fontSize": 10.5, "color": "#444", "align": "left", "baseline": "middle"},
                  "encoding": {
                    "x": {"datum": 0.49, "type": "quantitative", "scale": {"domain": [0, 1], "range": [62, 147], "nice": false, "zero": false}, "axis": null},
                    "y": {"field": "key", "type": "nominal", "scale": {"type": "band", "domain": ["month", "tmax", "tmin", "tmed", "rain"], "range": [301, 405], "paddingInner": 0, "paddingOuter": 0}, "axis": null},
                    "text": {"field": "label", "type": "nominal"}
                  }
                },
                {
                  "data": {"name": "rowlabels"},
                  "transform": [{"filter": "datum.region === 'M3' && (datum.key === 'tmed' || datum.key === 'rain')"}],
                  "mark": {"type": "rule", "strokeWidth": 3.5},
                  "encoding": {
                    "x": {"datum": 0.03, "type": "quantitative", "scale": {"domain": [0, 1], "range": [62, 147], "nice": false, "zero": false}, "axis": null},
                    "x2": {"datum": 0.49},
                    "y": {"field": "key", "type": "nominal", "scale": {"type": "band", "domain": ["month", "tmax", "tmin", "tmed", "rain"], "range": [301, 405], "paddingInner": 0, "paddingOuter": 0}, "axis": null},
                    "color": {"field": "key", "type": "nominal", "scale": {"domain": ["tmed", "rain"], "range": ["#F7941E", "#2B3990"]}, "legend": null}
                  }
                },
                {
                  "data": {"name": "rowlabels"},
                  "transform": [{"filter": "datum.region === 'M3' && (datum.key === 'tmed' || datum.key === 'rain')"}],
                  "mark": {"type": "point", "filled": true, "size": 70, "opacity": 1},
                  "encoding": {
                    "x": {"datum": 0.26, "type": "quantitative", "scale": {"domain": [0, 1], "range": [62, 147], "nice": false, "zero": false}, "axis": null},
                    "y": {"field": "key", "type": "nominal", "scale": {"type": "band", "domain": ["month", "tmax", "tmin", "tmed", "rain"], "range": [301, 405], "paddingInner": 0, "paddingOuter": 0}, "axis": null},
                    "color": {"field": "key", "type": "nominal", "scale": {"domain": ["tmed", "rain"], "range": ["#F7941E", "#2B3990"]}, "legend": null},
                    "shape": {"field": "key", "type": "nominal", "scale": {"domain": ["tmed", "rain"], "range": ["circle", "diamond"]}, "legend": null}
                  }
                }
              ]
            },
            {
              "width": 630, "height": 98,
              "data": {"name": "info"},
              "transform": [{"filter": "datum.region === 'M3' && datum.block === 'footer'"}],
              "layer": [
                {
                  "mark": {"type": "text", "align": "left", "baseline": "middle", "fontSize": 19, "fontWeight": "bold", "color": "#111"},
                  "encoding": {
                    "x": {"datum": "label", "type": "nominal", "scale": {"type": "point", "domain": ["label", "value"], "range": [20, 423], "padding": 0}, "axis": null},
                    "y": {"field": "row", "type": "ordinal", "scale": {"type": "point", "domain": [1, 2, 3, 4], "range": [13, 84], "padding": 0}, "axis": null},
                    "text": {"field": "label", "type": "nominal"}
                  }
                },
                {
                  "mark": {"type": "text", "align": "left", "baseline": "middle", "fontSize": 19, "color": "#333"},
                  "encoding": {
                    "x": {"datum": "value", "type": "nominal", "scale": {"type": "point", "domain": ["label", "value"], "range": [20, 423], "padding": 0}, "axis": null},
                    "y": {"field": "row", "type": "ordinal", "scale": {"type": "point", "domain": [1, 2, 3, 4], "range": [13, 84], "padding": 0}, "axis": null},
                    "text": {"field": "value", "type": "nominal"}
                  }
                },
                {
                  "mark": {"type": "rule", "color": "#1a1a1a", "strokeWidth": 2, "xOffset": -19},
                  "encoding": {
                    "x": {"datum": "value", "type": "nominal", "scale": {"type": "point", "domain": ["label", "value"], "range": [20, 423], "padding": 0}, "axis": null}
                  }
                }
              ]
            }
          ]
        },
        {
          "spacing": -2,
          "vconcat": [
            {
              "width": 637, "height": 41,
              "data": {"name": "titles"},
              "transform": [{"filter": "datum.region === 'M4'"}],
              "mark": {"type": "text", "align": "left", "baseline": "middle", "fontSize": 30, "color": "#111"},
              "encoding": {
                "x": {"datum": "label", "type": "nominal", "scale": {"type": "point", "domain": ["label", "value"], "range": [15, 417], "padding": 0}, "axis": null},
                "text": {"field": "text", "type": "nominal"}
              }
            },
            {
              "width": 637, "height": 96,
              "data": {"name": "info"},
              "transform": [{"filter": "datum.region === 'M4' && datum.block === 'header'"}],
              "layer": [
                {
                  "mark": {"type": "text", "align": "left", "baseline": "middle", "fontSize": 19, "fontWeight": "bold", "color": "#111"},
                  "encoding": {
                    "x": {"datum": "label", "type": "nominal", "scale": {"type": "point", "domain": ["label", "value"], "range": [20, 427], "padding": 0}, "axis": null},
                    "y": {"field": "row", "type": "ordinal", "scale": {"type": "point", "domain": [1, 2, 3, 4], "range": [11, 83], "padding": 0}, "axis": null},
                    "text": {"field": "label", "type": "nominal"}
                  }
                },
                {
                  "mark": {"type": "text", "align": "left", "baseline": "middle", "fontSize": 19, "color": "#333"},
                  "encoding": {
                    "x": {"datum": "value", "type": "nominal", "scale": {"type": "point", "domain": ["label", "value"], "range": [20, 427], "padding": 0}, "axis": null},
                    "y": {"field": "row", "type": "ordinal", "scale": {"type": "point", "domain": [1, 2, 3, 4], "range": [11, 83], "padding": 0}, "axis": null},
                    "text": {"field": "value", "type": "nominal"}
                  }
                },
                {
                  "mark": {"type": "rule", "color": "#1a1a1a", "strokeWidth": 2, "xOffset": -20},
                  "encoding": {
                    "x": {"datum": "value", "type": "nominal", "scale": {"type": "point", "domain": ["label", "value"], "range": [20, 427], "padding": 0}, "axis": null}
                  }
                }
              ]
            },
            {
              "width": 637, "height": 431,
              "resolve": {"scale": {"x": "independent", "y": "independent", "color": "independent", "shape": "independent"}},
              "layer": [
                {
                  "data": {"name": "titles"},
                  "transform": [{"filter": "datum.region === 'M4'"}],
                  "mark": {"type": "rect", "stroke": "#333", "strokeWidth": 1.5, "fill": {"gradient": "linear", "x1": 0, "y1": 0, "x2": 0, "y2": 1, "stops": [{"offset": 0, "color": "#c6e9ec"}, {"offset": 0.45, "color": "#e2f4f5"}, {"offset": 0.8, "color": "#ffffff"}, {"offset": 1, "color": "#ffffff"}]}},
                  "encoding": {
                    "x": {"datum": 0.5, "type": "quantitative", "scale": {"domain": [0.5, 12.5], "range": [145, 509], "nice": false, "zero": false}, "axis": null},
                    "x2": {"datum": 12.5},
                    "y": {"datum": -10, "type": "quantitative", "scale": {"domain": [-10, 100], "range": [305, 49], "nice": false, "zero": false},
                      "axis": {"orient": "left", "offset": -145, "values": [-10, 0, 10, 20, 30, 40, 50, 60, 70, 80, 90, 100], "title": "(°C)", "titleX": -17, "titleY": 25}},
                    "y2": {"datum": 100}
                  }
                },
                {
                  "data": {"name": "titles"},
                  "transform": [{"filter": "datum.region === 'M4'"}],
                  "mark": {"type": "rule", "color": "#555", "strokeWidth": 1},
                  "encoding": {
                    "x": {"datum": 0.5, "type": "quantitative", "scale": {"domain": [0.5, 12.5], "range": [145, 509], "nice": false, "zero": false}, "axis": null},
                    "x2": {"datum": 12.5},
                    "y": {"datum": 0, "type": "quantitative", "scale": {"domain": [-10, 100], "range": [305, 49], "nice": false, "zero": false}, "axis": null}
                  }
                },
                {
                  "data": {"name": "monthly"},
                  "transform": [{"filter": "datum.region === 'M4'"}],
                  "mark": {"type": "line", "color": "#F7941E", "strokeWidth": 4, "point": {"filled": true, "shape": "circle", "size": 170, "color": "#F7941E"}},
                  "encoding": {
                    "x": {"field": "month", "type": "quantitative", "scale": {"domain": [0.5, 12.5], "range": [145, 509], "nice": false, "zero": false}, "axis": null},
                    "y": {"field": "tmed", "type": "quantitative", "scale": {"domain": [-10, 100], "range": [305, 49], "nice": false, "zero": false}, "axis": null}
                  }
                },
                {
                  "data": {"name": "monthly"},
                  "transform": [{"filter": "datum.region === 'M4'"}],
                  "mark": {"type": "line", "color": "#2B3990", "strokeWidth": 4, "point": {"filled": true, "shape": "diamond", "size": 220, "color": "#2B3990"}},
                  "encoding": {
                    "x": {"field": "month", "type": "quantitative", "scale": {"domain": [0.5, 12.5], "range": [145, 509], "nice": false, "zero": false}, "axis": null},
                    "y": {"field": "rain", "type": "quantitative", "scale": {"domain": [-20, 200], "range": [305, 49], "nice": false, "zero": false},
                      "axis": {"orient": "right", "offset": -128, "values": [0, 20, 40, 60, 80, 100, 120, 140, 160, 180, 200], "title": "(mm)", "titleX": 23, "titleY": 25}}
                  }
                },
                {
                  "data": {"name": "monthly"},
                  "transform": [{"filter": "datum.region === 'M4'"}, {"fold": ["month", "tmax", "tmin", "tmed", "rain"], "as": ["key", "value"]}],
                  "mark": {"type": "rect", "fill": "white", "stroke": "#777", "strokeWidth": 1},
                  "encoding": {
                    "x": {"field": "month", "type": "ordinal", "scale": {"type": "band", "domain": [1, 2, 3, 4, 5, 6, 7, 8, 9, 10, 11, 12], "range": [145, 509], "paddingInner": 0, "paddingOuter": 0}, "axis": null},
                    "y": {"field": "key", "type": "nominal", "scale": {"type": "band", "domain": ["month", "tmax", "tmin", "tmed", "rain"], "range": [305, 408], "paddingInner": 0, "paddingOuter": 0}, "axis": null}
                  }
                },
                {
                  "data": {"name": "monthly"},
                  "transform": [{"filter": "datum.region === 'M4'"}, {"fold": ["month", "tmax", "tmin", "tmed", "rain"], "as": ["key", "value"]}],
                  "mark": {"type": "text", "fontSize": 10.5, "color": "#333", "baseline": "middle"},
                  "encoding": {
                    "x": {"field": "month", "type": "ordinal", "scale": {"type": "band", "domain": [1, 2, 3, 4, 5, 6, 7, 8, 9, 10, 11, 12], "range": [145, 509], "paddingInner": 0, "paddingOuter": 0}, "axis": null},
                    "y": {"field": "key", "type": "nominal", "scale": {"type": "band", "domain": ["month", "tmax", "tmin", "tmed", "rain"], "range": [305, 408], "paddingInner": 0, "paddingOuter": 0}, "axis": null},
                    "text": {"field": "value", "type": "nominal"}
                  }
                },
                {
                  "data": {"name": "rowlabels"},
                  "transform": [{"filter": "datum.region === 'M4'"}],
                  "mark": {"type": "rect", "fill": "white", "stroke": "#777", "strokeWidth": 1},
                  "encoding": {
                    "x": {"datum": 0, "type": "quantitative", "scale": {"domain": [0, 1], "range": [62, 145], "nice": false, "zero": false}, "axis": null},
                    "x2": {"datum": 1},
                    "y": {"field": "key", "type": "nominal", "scale": {"type": "band", "domain": ["month", "tmax", "tmin", "tmed", "rain"], "range": [305, 408], "paddingInner": 0, "paddingOuter": 0}, "axis": null}
                  }
                },
                {
                  "data": {"name": "rowlabels"},
                  "transform": [{"filter": "datum.region === 'M4' && (datum.key === 'tmax' || datum.key === 'tmin')"}],
                  "mark": {"type": "text", "fontSize": 10.5, "color": "#444", "align": "right", "baseline": "middle"},
                  "encoding": {
                    "x": {"datum": 0.93, "type": "quantitative", "scale": {"domain": [0, 1], "range": [62, 145], "nice": false, "zero": false}, "axis": null},
                    "y": {"field": "key", "type": "nominal", "scale": {"type": "band", "domain": ["month", "tmax", "tmin", "tmed", "rain"], "range": [305, 408], "paddingInner": 0, "paddingOuter": 0}, "axis": null},
                    "text": {"field": "label", "type": "nominal"}
                  }
                },
                {
                  "data": {"name": "rowlabels"},
                  "transform": [{"filter": "datum.region === 'M4' && (datum.key === 'tmed' || datum.key === 'rain')"}],
                  "mark": {"type": "text", "fontSize": 10.5, "color": "#444", "align": "left", "baseline": "middle"},
                  "encoding": {
                    "x": {"datum": 0.49, "type": "quantitative", "scale": {"domain": [0, 1], "range": [62, 145], "nice": false, "zero": false}, "axis": null},
                    "y": {"field": "key", "type": "nominal", "scale": {"type": "band", "domain": ["month", "tmax", "tmin", "tmed", "rain"], "range": [305, 408], "paddingInner": 0, "paddingOuter": 0}, "axis": null},
                    "text": {"field": "label", "type": "nominal"}
                  }
                },
                {
                  "data": {"name": "rowlabels"},
                  "transform": [{"filter": "datum.region === 'M4' && (datum.key === 'tmed' || datum.key === 'rain')"}],
                  "mark": {"type": "rule", "strokeWidth": 3.5},
                  "encoding": {
                    "x": {"datum": 0.03, "type": "quantitative", "scale": {"domain": [0, 1], "range": [62, 145], "nice": false, "zero": false}, "axis": null},
                    "x2": {"datum": 0.49},
                    "y": {"field": "key", "type": "nominal", "scale": {"type": "band", "domain": ["month", "tmax", "tmin", "tmed", "rain"], "range": [305, 408], "paddingInner": 0, "paddingOuter": 0}, "axis": null},
                    "color": {"field": "key", "type": "nominal", "scale": {"domain": ["tmed", "rain"], "range": ["#F7941E", "#2B3990"]}, "legend": null}
                  }
                },
                {
                  "data": {"name": "rowlabels"},
                  "transform": [{"filter": "datum.region === 'M4' && (datum.key === 'tmed' || datum.key === 'rain')"}],
                  "mark": {"type": "point", "filled": true, "size": 70, "opacity": 1},
                  "encoding": {
                    "x": {"datum": 0.26, "type": "quantitative", "scale": {"domain": [0, 1], "range": [62, 145], "nice": false, "zero": false}, "axis": null},
                    "y": {"field": "key", "type": "nominal", "scale": {"type": "band", "domain": ["month", "tmax", "tmin", "tmed", "rain"], "range": [305, 408], "paddingInner": 0, "paddingOuter": 0}, "axis": null},
                    "color": {"field": "key", "type": "nominal", "scale": {"domain": ["tmed", "rain"], "range": ["#F7941E", "#2B3990"]}, "legend": null},
                    "shape": {"field": "key", "type": "nominal", "scale": {"domain": ["tmed", "rain"], "range": ["circle", "diamond"]}, "legend": null}
                  }
                }
              ]
            },
            {
              "width": 637, "height": 100,
              "data": {"name": "info"},
              "transform": [{"filter": "datum.region === 'M4' && datum.block === 'footer'"}],
              "layer": [
                {
                  "mark": {"type": "text", "align": "left", "baseline": "middle", "fontSize": 19, "fontWeight": "bold", "color": "#111"},
                  "encoding": {
                    "x": {"datum": "label", "type": "nominal", "scale": {"type": "point", "domain": ["label", "value"], "range": [20, 427], "padding": 0}, "axis": null},
                    "y": {"field": "row", "type": "ordinal", "scale": {"type": "point", "domain": [1, 2, 3, 4], "range": [12, 83], "padding": 0}, "axis": null},
                    "text": {"field": "label", "type": "nominal"}
                  }
                },
                {
                  "mark": {"type": "text", "align": "left", "baseline": "middle", "fontSize": 19, "color": "#333"},
                  "encoding": {
                    "x": {"datum": "value", "type": "nominal", "scale": {"type": "point", "domain": ["label", "value"], "range": [20, 427], "padding": 0}, "axis": null},
                    "y": {"field": "row", "type": "ordinal", "scale": {"type": "point", "domain": [1, 2, 3, 4], "range": [12, 83], "padding": 0}, "axis": null},
                    "text": {"field": "value", "type": "nominal"}
                  }
                },
                {
                  "mark": {"type": "rule", "color": "#1a1a1a", "strokeWidth": 2, "xOffset": -20},
                  "encoding": {
                    "x": {"datum": "value", "type": "nominal", "scale": {"type": "point", "domain": ["label", "value"], "range": [20, 427], "padding": 0}, "axis": null}
                  }
                }
              ]
            }
          ]
        }
      ]
    }
  ]
}
